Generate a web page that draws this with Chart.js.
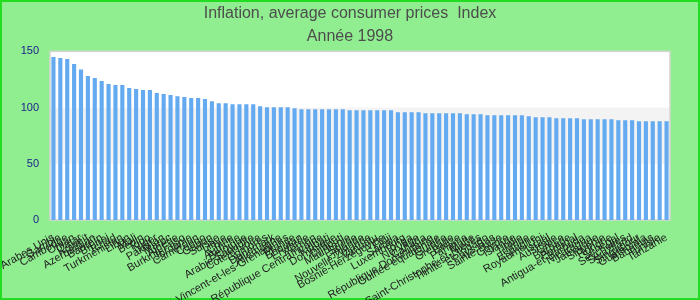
<!DOCTYPE html>
<html>
<head>
<meta charset="utf-8">
<script src="https://cdn.jsdelivr.net/npm/chart.js@4"></script>
<style>
  html, body { margin: 0; padding: 0; background: #90ee90; }
  #wrap { width: 700px; height: 300px; }
</style>
</head>
<body>
<div id="wrap"><canvas id="chart" width="700" height="300"></canvas></div>
<script>
// données (indice 1998, trié décroissant)
const pays = [
  'Émirats Arabes Unis', 'Gambie', 'Cambodge', 'Oman', 'Qatar', 'Koweït', 'Azerbaïdjan', 'Bahreïn', 'Brunei', 'Tchad',
  'Turkménistan', 'Liban', 'Mali', 'Bénin', 'Togo', 'Niger', 'Pakistan', 'Maroc', 'Algérie', 'Burkina Faso',
  'Jordanie', 'Cameroun', 'Congo', 'Gabon', 'Suisse', 'Libye', 'Chine', 'Autriche', 'Belgique', 'Arabie Saoudite',
  "Côte d'Ivoire", 'Comores', 'Danemark', 'Allemagne', 'Saint-Vincent-et-les-Grenadines', 'France', 'Bhoutan', 'Érythrée', 'Yémen', 'République Centrafricaine',
  'Kiribati', 'Dominique', 'Djibouti', 'Mauritanie', 'Suède', 'Finlande', 'Nouvelle-Zélande', 'Vanuatu', 'Bosnie-Herzégovine', 'Fidji',
  'Samoa', 'Luxembourg', 'Tonga', 'Norvège', 'Canada', 'République Dominicaine', 'Guinée équatoriale', 'Guinée', 'Grenade', 'Belize',
  'Panama', 'Malte', 'Saint-Christophe-et-Niévès', 'Trinité-et-Tobago', 'Pays-Bas', 'Sainte-Lucie', 'Chypre', 'Islande', 'Italie', 'Irlande',
  'Espagne', 'Royaume-Uni', 'Israël', 'Australie', 'Grèce', 'Barbade', 'Portugal', 'Antigua-et-Barbuda', 'Nicaragua', 'Jamaïque',
  'Slovénie', 'Hongrie', 'Sénégal', 'Seychelles', 'Swaziland', 'Singapour', 'Guatemala', 'Bahamas', 'Tunisie', 'Tanzanie'
];
const indice = [
  145.0, 144.1, 143.2, 138.8, 134.0, 128.1, 126.4, 123.7, 121.0, 120.1,
  120.1, 117.5, 116.6, 115.7, 115.7, 112.9, 112.0, 111.1, 110.2, 109.4,
  108.5, 108.5, 107.7, 105.6, 103.8, 103.8, 103.0, 103.0, 103.0, 103.0,
  101.2, 100.3, 100.3, 100.3, 100.3, 99.4, 98.5, 98.5, 98.5, 98.5,
  98.5, 98.5, 98.5, 97.6, 97.6, 97.6, 97.6, 97.6, 97.6, 97.6,
  95.9, 95.9, 95.9, 95.9, 95.0, 95.0, 95.0, 95.0, 95.0, 95.0,
  94.1, 94.1, 94.1, 93.2, 93.2, 93.2, 93.2, 93.2, 93.2, 92.3,
  91.4, 91.4, 91.4, 90.5, 90.5, 90.5, 90.5, 89.6, 89.6, 89.6,
  89.6, 89.6, 88.8, 88.8, 88.8, 87.9, 87.9, 87.9, 87.9, 87.9
];
const yTicks = [0, 50, 100, 150];
const titre = 'Inflation, average consumer prices  Index';
const sousTitre = 'Année 1998';

Chart.defaults.font.family = "'Liberation Sans', Arial, sans-serif";

// fond vert, bandes du graphe et cadre
const fond = {
  id: 'fond',
  beforeDraw(chart) {
    const ctx = chart.ctx;
    const a = chart.chartArea;
    const y = chart.scales.y;
    ctx.save();
    ctx.fillStyle = '#90ee90';
    ctx.fillRect(0, 0, chart.width, chart.height);
    ctx.strokeStyle = '#22dd22';
    ctx.lineWidth = 2;
    ctx.strokeRect(1, 1, chart.width - 2, chart.height - 2);
    ctx.fillStyle = '#ffffff';
    ctx.fillRect(a.left, a.top, a.right - a.left, a.bottom - a.top);
    let y1 = y.getPixelForValue(100), y2 = y.getPixelForValue(50);
    ctx.fillStyle = '#f3f3f3';
    ctx.fillRect(a.left, y1, a.right - a.left, y2 - y1);
    ctx.strokeStyle = '#d4d4d4';
    ctx.lineWidth = 1.5;
    ctx.strokeRect(a.left, a.top, a.right - a.left, a.bottom - a.top);
    ctx.restore();
  }
};

new Chart(document.getElementById('chart'), {
  type: 'bar',
  data: {
    labels: pays,
    datasets: [{
      data: indice,
      backgroundColor: '#64aaf0',
      categoryPercentage: 1,
      barPercentage: 0.6
    }]
  },
  options: {
    responsive: false,
    animation: false,
    layout: { padding: 0 },
    plugins: {
      legend: { display: false },
      tooltip: { enabled: false },
      title: {
        display: true, text: titre, color: '#4d4d4d',
        font: { size: 16, weight: 'normal' },
        padding: { top: 4, bottom: 4 }
      },
      subtitle: {
        display: true, text: sousTitre, color: '#4d4d4d',
        font: { size: 16, weight: 'normal' },
        padding: { top: 0, bottom: 5 }
      }
    },
    scales: {
      x: {
        grid: { display: false },
        border: { display: false },
        ticks: { autoSkip: false, minRotation: 30, maxRotation: 30, color: '#222', font: { size: 11 } },
        afterFit(s) {
          s.height = 80;
          s.paddingLeft = 0;
          s.paddingRight = 30;
        }
      },
      y: {
        min: 0, max: 150,
        grid: { display: false, drawTicks: false },
        border: { display: false },
        afterBuildTicks(s) { s.ticks = yTicks.map(v => ({ value: v })); },
        ticks: { color: '#1a1a8c', padding: 11, font: { size: 11 } },
        afterFit(s) { s.width = 50; }
      }
    }
  },
  plugins: [fond]
});
</script>
</body>
</html>
